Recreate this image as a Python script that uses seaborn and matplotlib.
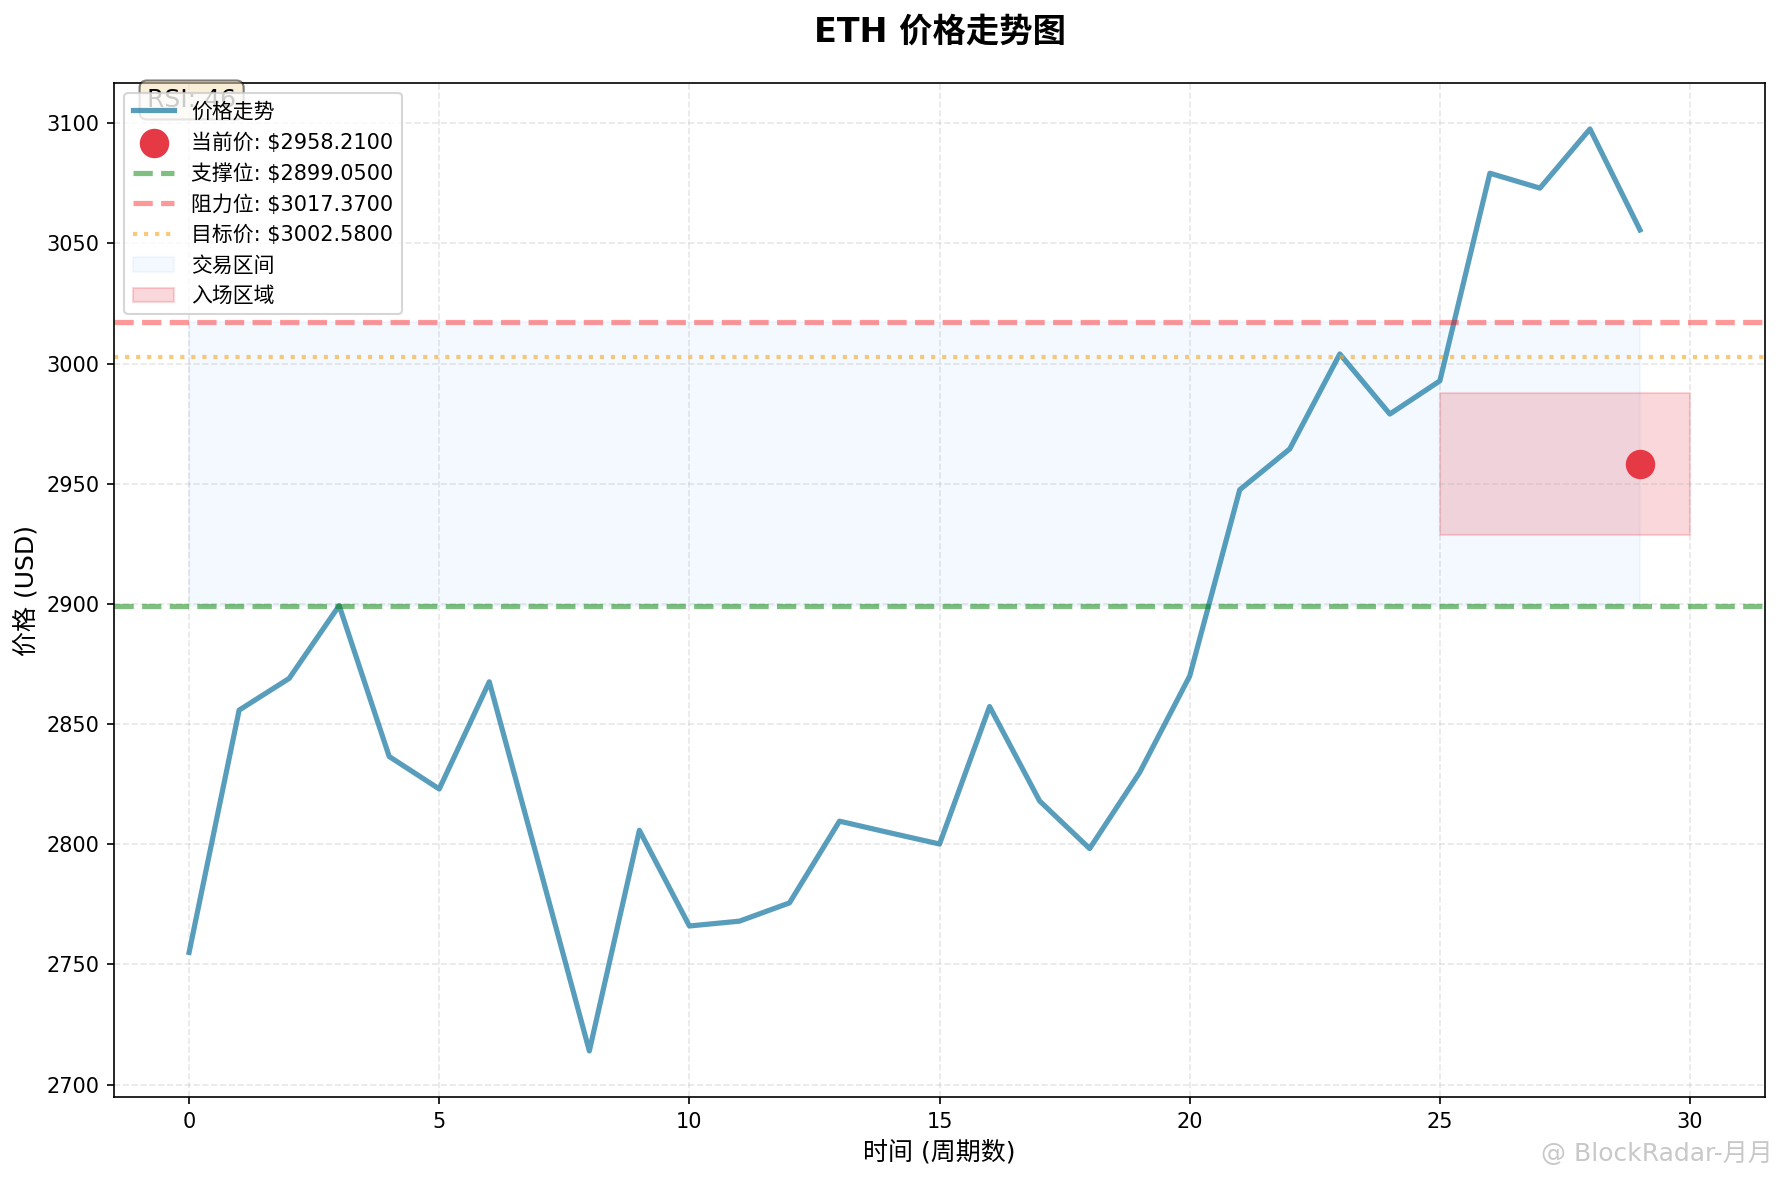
import numpy as np
import pandas as pd
import matplotlib
matplotlib.use("Agg")
import matplotlib.pyplot as plt
import seaborn as sns

plt.rcParams['font.family'] = ['DejaVu Sans', 'Noto Sans CJK SC']
plt.rcParams['axes.unicode_minus'] = False

# price data
hours = list(range(30))
prices = [2755.0, 2855.8, 2869.0, 2899.3, 2836.5, 2823.0, 2867.6, 2791.0, 2714.0, 2805.8,
          2766.0, 2768.0, 2775.6, 2809.6, 2804.8, 2800.1, 2857.3, 2818.0, 2798.2, 2829.9,
          2870.0, 2947.5, 2964.5, 3004.0, 2979.0, 2992.8, 3079.2, 3073.0, 3097.6, 3055.6]
current_price = 2958.21
support = 2899.05
resistance = 3017.37
target = 3002.58
rsi = 46
entry_low = current_price * 0.99
entry_high = current_price * 1.01
entry_x = [25, 30]

df = pd.DataFrame({'hour': hours, 'price': prices})

fig = plt.figure(figsize=(11.88, 7.867), dpi=150)
ax = fig.add_axes([0.064, 0.0703, 0.9265, 0.8594])

sns.lineplot(data=df, x='hour', y='price', ax=ax, color='#2E86AB', alpha=0.8,
             linewidth=2.5, label='价格走势')
sns.scatterplot(x=[hours[-1]], y=[current_price], ax=ax, color='#E63946', s=200,
                linewidth=0, zorder=5, label=f'当前价: ${current_price:.4f}')
ax.axhline(support, color='green', linestyle='--', alpha=0.5, linewidth=2.5,
           label=f'支撑位: ${support:.4f}')
ax.axhline(resistance, color='red', linestyle='--', alpha=0.4, linewidth=2.5,
           label=f'阻力位: ${resistance:.4f}')
ax.axhline(target, color='#F5A623', linestyle=':', alpha=0.6, linewidth=2,
           label=f'目标价: ${target:.4f}')
ax.fill_between(hours, support, resistance, color='#1E90FF', alpha=0.05, label='交易区间')
ax.fill_between(entry_x, entry_low, entry_high, color='#E63946', alpha=0.2, label='入场区域')

ax.text(0.02, 0.995, f'RSI: {rsi}', transform=ax.transAxes, fontsize=12, va='top',
        bbox=dict(boxstyle='round', facecolor='wheat', alpha=0.5))

ax.set_title('ETH 价格走势图', fontsize=16, fontweight='bold', pad=20)
ax.set_xlabel('时间 (周期数)', fontsize=12)
ax.set_ylabel('价格 (USD)', fontsize=12)
ax.grid(True, linestyle='--', alpha=0.3)
ax.legend(loc='upper left', fontsize=10)

fig.text(0.995, 0.012, '@ BlockRadar-月月', ha='right', va='bottom', fontsize=12,
         color='#c8c8c8')

fig.savefig('out.png', dpi=150)
